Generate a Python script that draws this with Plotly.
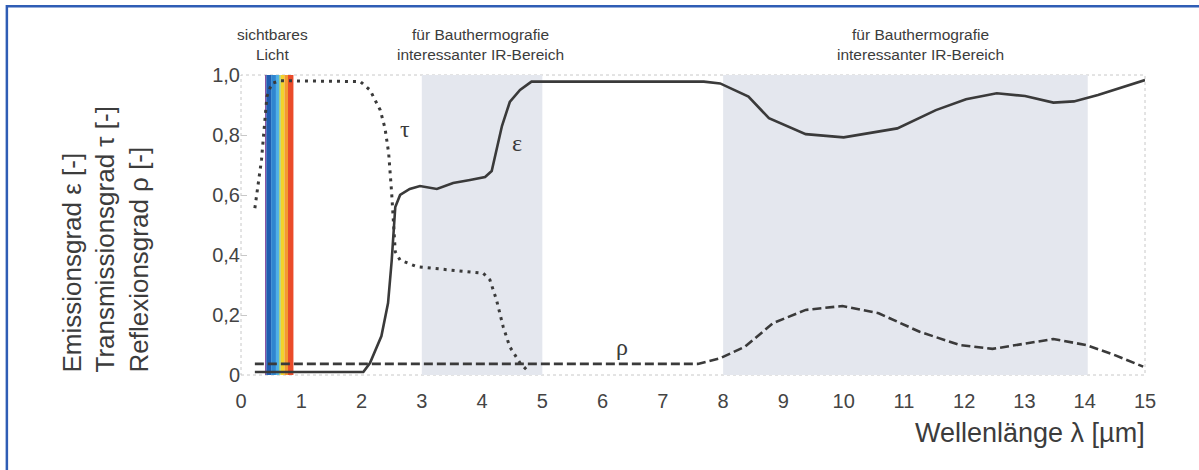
import plotly.graph_objects as go

# ---- data ----
eps_x = [0.23, 2.03, 2.14, 2.33, 2.44, 2.50, 2.56, 2.64, 2.80, 2.97, 3.25, 3.52, 3.80, 4.05, 4.16, 4.24,
         4.33, 4.46, 4.63, 4.82, 7.68, 7.95, 8.42, 8.76, 9.37, 10.0, 10.89, 11.53, 12.03, 12.54, 13.01,
         13.48, 13.82, 14.22, 15.0]
eps_y = [0.01, 0.01, 0.04, 0.13, 0.24, 0.38, 0.56, 0.60, 0.62, 0.63, 0.62, 0.64, 0.65, 0.66, 0.68, 0.75,
         0.83, 0.91, 0.95, 0.978, 0.978, 0.972, 0.928, 0.856, 0.803, 0.792, 0.822, 0.883, 0.919, 0.939, 0.93,
         0.908, 0.912, 0.933, 0.983]

tau_x = [0.23, 0.34, 0.43, 0.51, 0.65, 1.98, 2.14, 2.31, 2.39, 2.45, 2.50, 2.53, 2.56, 2.64, 2.92, 3.47,
         4.02, 4.13, 4.24, 4.35, 4.46, 4.63, 4.77]
tau_y = [0.556, 0.717, 0.928, 0.972, 0.981, 0.978, 0.95, 0.883, 0.822, 0.74, 0.606, 0.494, 0.411, 0.383,
         0.361, 0.35, 0.339, 0.317, 0.25, 0.161, 0.094, 0.04, 0.011]

rho_x = [0.23, 7.58, 7.95, 8.36, 8.83, 9.37, 9.98, 10.58, 11.26, 11.93, 12.47, 13.01, 13.48, 14.02, 14.49, 14.97]
rho_y = [0.037, 0.037, 0.056, 0.094, 0.173, 0.217, 0.23, 0.206, 0.144, 0.10, 0.087, 0.106, 0.12, 0.10, 0.067, 0.028]

ir_bands = [(3.0, 5.0), (8.0, 14.05)]
band_titles = ["für Bauthermografie<br>interessanter IR-Bereich", "für Bauthermografie<br>interessanter IR-Bereich"]
band_title_x = [3.97, 11.27]
visible_title = "sichtbares<br>Licht"
visible_title_x = 0.52

spectrum_edges = [0.40, 0.42, 0.50, 0.58, 0.63, 0.66, 0.72, 0.78, 0.87]
spectrum_colors = ["#7b3f98", "#1f5cb0", "#2f86d0", "#4fb0e6", "#9fcf8a", "#f2d22a", "#f29a2e", "#ea4b2a"]

y_ticks = [0, 0.2, 0.4, 0.6, 0.8, 1.0]
y_ticktext = ["0", "0,2", "0,4", "0,6", "0,8", "1,0"]
x_ticks = list(range(0, 16))

line_col = "#3a3a3a"
text_col = "#3c3c3c"

fig = go.Figure()

fig.add_trace(go.Scatter(x=eps_x, y=eps_y, mode="lines",
                         line=dict(color=line_col, width=2.6), hoverinfo="skip"))
fig.add_trace(go.Scatter(x=tau_x, y=tau_y, mode="lines",
                         line=dict(color=line_col, width=3, dash="3px,5px"), hoverinfo="skip"))
fig.add_trace(go.Scatter(x=rho_x, y=rho_y, mode="lines",
                         line=dict(color=line_col, width=2.6, dash="9px,4px"), hoverinfo="skip"))

shapes = []
for x0, x1 in ir_bands:
    shapes.append(dict(type="rect", xref="x", yref="y", x0=x0, x1=x1, y0=0, y1=1,
                       fillcolor="#e4e7ee", line=dict(width=0), layer="below"))
for i, c in enumerate(spectrum_colors):
    shapes.append(dict(type="rect", xref="x", yref="y", x0=spectrum_edges[i], x1=spectrum_edges[i + 1],
                       y0=0, y1=1, fillcolor=c, line=dict(width=0), layer="below"))
# dotted plot frame
shapes.append(dict(type="rect", xref="paper", yref="paper", x0=0, x1=1, y0=0, y1=1,
                   line=dict(color="#c8c8c8", width=1, dash="dot"), layer="below"))
# blue outer frame
shapes.append(dict(type="rect", xref="paper", yref="paper", x0=-0.259, x1=1.2, y0=-0.4, y1=1.229,
                   line=dict(color="#2f5db5", width=2.5), layer="above"))

annotations = [
    dict(text=visible_title, x=visible_title_x, xref="x", y=1.033, yref="paper", yanchor="bottom",
         showarrow=False, font=dict(size=15.5, color=text_col, family="Liberation Sans")),
]
for t, bx in zip(band_titles, band_title_x):
    annotations.append(dict(text=t, x=bx, xref="x", y=1.033, yref="paper", yanchor="bottom",
                            showarrow=False, font=dict(size=15.5, color=text_col, family="Liberation Sans")))
# curve labels
annotations += [
    dict(text="τ", x=2.6, y=0.82, xref="x", yref="y", showarrow=False, xanchor="left",
         font=dict(size=24, color=line_col, family="Liberation Serif")),
    dict(text="ε", x=4.47, y=0.775, xref="x", yref="y", showarrow=False, xanchor="left",
         font=dict(size=24, color=line_col, family="Liberation Serif")),
    dict(text="ρ", x=6.33, y=0.095, xref="x", yref="y", showarrow=False,
         font=dict(size=24, color=line_col, family="Liberation Serif")),
]
# axis titles
annotations.append(dict(text="Wellenlänge λ [µm]", x=1.002, xref="paper", xanchor="right",
                        y=-0.193, yref="paper", yanchor="middle", showarrow=False,
                        font=dict(size=27, color=text_col, family="Liberation Sans")))
annotations.append(dict(text="Emissionsgrad ε [-]<br>Transmissionsgrad τ [-]<br>Reflexionsgrad ρ [-]",
                        x=-0.1504, xref="paper", xanchor="center", y=0, yref="paper", yanchor="bottom",
                        textangle=-90, align="left", showarrow=False,
                        font=dict(size=26, color=text_col, family="Liberation Sans")))

fig.update_layout(
    width=1199, height=470,
    margin=dict(l=241, r=54, t=75, b=95),
    paper_bgcolor="white", plot_bgcolor="white",
    showlegend=False,
    shapes=shapes,
    annotations=annotations,
    xaxis=dict(range=[0, 15], tickvals=x_ticks, showgrid=False, zeroline=False, showline=False,
               ticks="outside", ticklen=8, tickcolor="rgba(0,0,0,0)",
               tickfont=dict(size=20, color="#444", family="Liberation Sans")),
    yaxis=dict(range=[0, 1], tickvals=y_ticks, ticktext=y_ticktext, showgrid=False, zeroline=False,
               showline=False, ticks="inside", ticklen=6, tickcolor="#c8c8c8",
               tickfont=dict(size=20, color="#444", family="Liberation Sans")),
)

fig.write_html("out.html")
